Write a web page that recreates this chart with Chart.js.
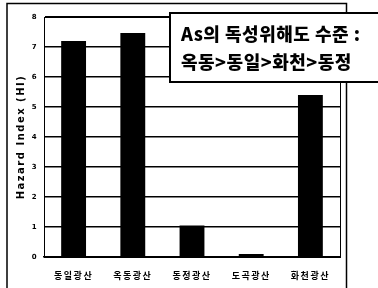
<!DOCTYPE html>
<html><head><meta charset="utf-8">
<script src="https://cdn.jsdelivr.net/npm/chart.js@4"></script>
<style>html,body{margin:0;padding:0;background:#fff}#wrap{width:378px;height:288px;position:relative}</style>
</head><body><div id="wrap"><canvas id="c" width="378" height="288"></canvas></div>
<script>
const categories = ['동일광산','옥동광산','동정광산','도곡광산','화천광산'];
const hazardIndex = [7.2, 7.47, 1.05, 0.1, 5.4];
const yTicks = [0,1,2,3,4,5,6,7,8];
const noteLines = ['As의 독성위해도 수준 :', '옥동>동일>화천>동정'];
const KFONT = '"Noto Sans CJK KR", "Noto Sans", sans-serif';

const decor = {
  id: 'decor',
  beforeDraw(chart) {
    const ctx = chart.ctx;
    ctx.save();
    ctx.fillStyle = '#fff';
    ctx.fillRect(0, 0, chart.width, chart.height);
    ctx.restore();
    ctx.letterSpacing = '1.5px';
  },
  afterDraw(chart) {
    const ctx = chart.ctx, a = chart.chartArea;
    ctx.save();
    ctx.strokeStyle = '#000';
    ctx.lineWidth = 1;
    ctx.strokeRect(a.left + 0.5, a.top + 0.5, a.right - a.left, a.bottom - a.top);
    // outer frame
    ctx.lineWidth = 1.5;
    ctx.beginPath();
    ctx.moveTo(7, 290); ctx.lineTo(7, 3.5); ctx.lineTo(346.5, 3.5); ctx.lineTo(346.5, 290);
    ctx.stroke();
    // note box
    ctx.fillStyle = '#fff';
    ctx.fillRect(170, 13, 220, 69);
    ctx.lineWidth = 2;
    ctx.strokeRect(170, 13, 220, 69);
    ctx.fillStyle = '#000';
    ctx.font = '900 18px ' + KFONT;
    ctx.textBaseline = 'middle';
    ctx.textAlign = 'left';
    ctx.letterSpacing = '0.5px';
    ctx.fillText(noteLines[0], 181, 34);
    ctx.fillText(noteLines[1], 181, 62);
    ctx.restore();
  }
};

new Chart(document.getElementById('c'), {
  type: 'bar',
  data: { labels: categories, datasets: [{ data: hazardIndex, backgroundColor: '#000', borderWidth: 0, categoryPercentage: 1, barPercentage: 0.42 }] },
  options: {
    responsive: false, animation: false,
    layout: { padding: { left: 7, right: 38, top: 17, bottom: 0 } },
    plugins: { legend: { display: false }, tooltip: { enabled: false } },
    scales: {
      x: {
        grid: { display: false },
        border: { display: true, color: '#000', width: 1.5 },
        ticks: { color: '#000', font: { family: KFONT, size: 9, weight: 'bold' }, padding: 5, maxRotation: 0 },
        afterFit(s) { s.height = 31; }
      },
      y: {
        min: 0, max: 8,
        afterBuildTicks(s) { s.ticks = yTicks.map(v => ({ value: v })); },
        grid: { color: '#000', lineWidth: 1.5, drawTicks: false },
        border: { display: true, color: '#000', width: 1 },
        ticks: { color: '#000', font: { family: 'DejaVu Sans', size: 7, weight: 'bold' }, padding: 6 },
        title: { display: true, text: 'Hazard Index (HI)', color: '#000', font: { family: 'DejaVu Sans', size: 10, weight: 'bold' }, padding: { top: 8, bottom: 0 } },
        afterFit(s) { s.width = 37; }
      }
    }
  },
  plugins: [decor]
});
</script></body></html>
